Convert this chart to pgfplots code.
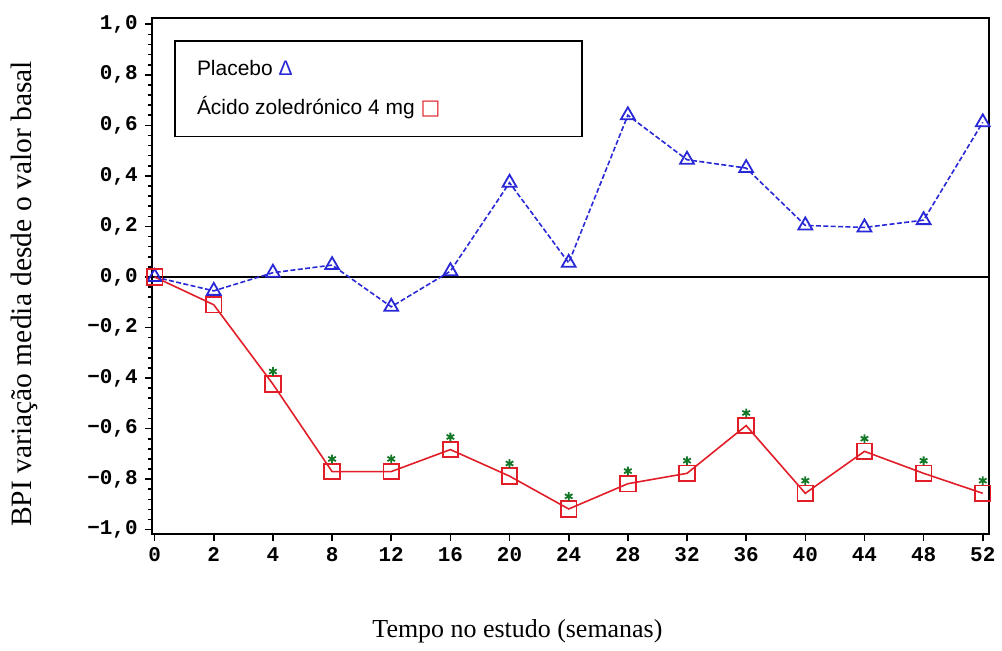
\documentclass[border=0pt]{standalone}
\usepackage{fontspec}
\setmainfont{Liberation Serif}
\setsansfont{Liberation Sans}
\setmonofont{Liberation Mono}
\newfontfamily\symfont{DejaVu Sans}
\usepackage{pgfplots}
\pgfplotsset{compat=1.18}

\definecolor{plblue}{RGB}{40,40,215}
\definecolor{zolred}{RGB}{225,30,40}
\definecolor{stargreen}{RGB}{20,120,40}

\begin{document}
\begin{tikzpicture}
\begin{axis}[
  scale only axis,
  width=419.5pt, height=258.5pt,
  xmin=-0.05, xmax=14.1,
  ymin=-1.016, ymax=1.025,
  xtick={0,...,14},
  xticklabels={0,2,4,8,12,16,20,24,28,32,36,40,44,48,52},
  ytick={-1,-0.8,-0.6,-0.4,-0.2,0,0.2,0.4,0.6,0.8,1},
  yticklabels={{−1,0},{−0,8},{−0,6},{−0,4},{−0,2},{0,0},{0,2},{0,4},{0,6},{0,8},{1,0}},
  minor y tick num=4,
  tick align=outside,
  xtick pos=bottom, ytick pos=left,
  major tick length=3.5pt, minor tick length=2pt,
  every tick/.style={black, line width=0.8pt},
  axis line style={line width=1pt},
  tick label style={font=\ttfamily\bfseries\fontsize{10.5}{12}\selectfont},
  extra y ticks={0},
  extra y tick labels={},
  extra y tick style={grid=major, major grid style={black, line width=0.7pt}, major tick length=0pt},
  xlabel={Tempo no estudo (semanas)},
  ylabel={BPI variação media desde o valor basal},
  xlabel style={font=\rmfamily\fontsize{13}{15}\selectfont, at={(rel axis cs:0.437,-0.19)}, anchor=center},
  ylabel style={font=\rmfamily\fontsize{14.8}{17}\selectfont, at={(rel axis cs:-0.1526,0.465)}, anchor=center},
  legend plot pos=none,
  legend cell align=left,
  legend style={at={(rel axis cs:0.027,0.957)}, anchor=north west,
    draw=black, line width=0.8pt, inner xsep=9pt, inner ysep=7.6pt,
    row sep=5pt,
    font=\sffamily\fontsize{10.5}{12}\selectfont},
  clip=false,
]
\addplot[plblue, line width=0.8pt, dash pattern=on 2.5pt off 1.2pt,
  mark=triangle, mark size=4pt, mark options={solid, line width=0.9pt}]
  coordinates {
  (0,0.000) (1,-0.055) (2,0.017) (3,0.047) (4,-0.118) (5,0.023) (6,0.373) (7,0.056)
  (8,0.640) (9,0.464) (10,0.431) (11,0.204) (12,0.196) (13,0.225) (14,0.612)
  };
\addlegendentry{\makebox[182pt][l]{Placebo \textcolor{plblue}{Δ}}}
\addplot[zolred, line width=0.8pt,
  mark=square, mark size=3.9pt, mark options={solid, line width=0.9pt}]
  coordinates {
  (0,0.000) (1,-0.110) (2,-0.424) (3,-0.770) (4,-0.770) (5,-0.683) (6,-0.788) (7,-0.918)
  (8,-0.818) (9,-0.777) (10,-0.588) (11,-0.856) (12,-0.690) (13,-0.777) (14,-0.856)
  };
\addlegendentry{\makebox[182pt][l]{Ácido zoledrónico 4 mg \textcolor{zolred}{\symfont □}}}
\addplot[only marks, stargreen, mark=asterisk, mark size=2.2pt, mark options={line width=0.9pt},
  forget plot]
  coordinates {
  (2,-0.374) (3,-0.720) (4,-0.720) (5,-0.633) (6,-0.738) (7,-0.868)
  (8,-0.768) (9,-0.727) (10,-0.538) (11,-0.806) (12,-0.640) (13,-0.727) (14,-0.806)
  };
\coordinate (bbl) at (rel axis cs:-0.1812,-0.2263);
\coordinate (btr) at (rel axis cs:1.0131,1.0348);
\end{axis}
\path (bbl) rectangle (btr);
\end{tikzpicture}
\end{document}
